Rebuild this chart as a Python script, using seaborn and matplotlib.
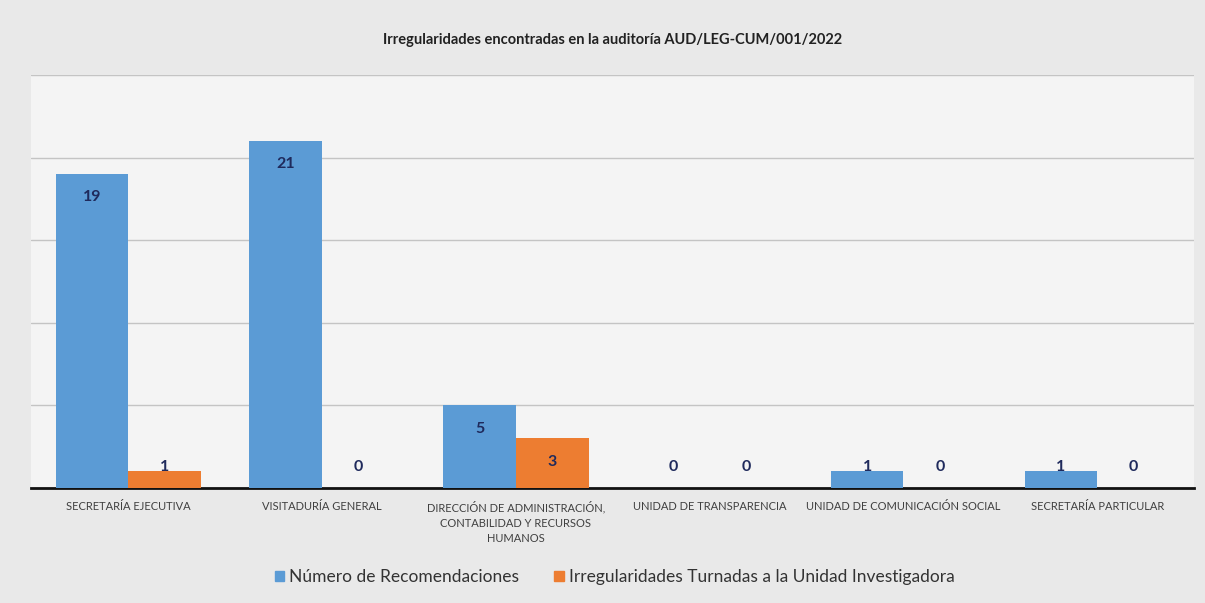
import numpy as np
import pandas as pd
import matplotlib.pyplot as plt
from matplotlib.patches import Patch
import seaborn as sns

# Data
areas = ['SECRETARÍA EJECUTIVA', 'VISITADURÍA GENERAL',
         'DIRECCIÓN DE ADMINISTRACIÓN,\nCONTABILIDAD Y RECURSOS\nHUMANOS',
         'UNIDAD DE TRANSPARENCIA', 'UNIDAD DE COMUNICACIÓN SOCIAL',
         'SECRETARÍA PARTICULAR']
recomendaciones = [19, 21, 5, 0, 1, 1]
irregularidades = [1, 0, 3, 0, 0, 0]
series = ['Número de Recomendaciones', 'Irregularidades Turnadas a la Unidad Investigadora']
colors = ['#5b9bd5', '#ed7d31']

df = pd.DataFrame({
    'area': areas * 2,
    'valor': recomendaciones + irregularidades,
    'serie': [series[0]] * len(areas) + [series[1]] * len(areas),
})

sns.set_style('white')
plt.rcParams['font.family'] = ['Lato', 'DejaVu Sans']

fig = plt.figure(figsize=(12.05, 6.03), dpi=100, facecolor='#e9e9e9')
ax = fig.add_axes([0.026, 0.1907, 0.965, 0.685])
ax.set_facecolor('#f4f4f4')

sns.barplot(data=df, x='area', y='valor', hue='serie', palette=colors,
            width=0.75, saturation=1, linewidth=0, ax=ax, legend=False, zorder=3)

ax.set_ylim(0, 25)
ax.set_xlim(-0.5, len(areas) - 0.5)
ax.set_yticks([5, 10, 15, 20, 25])
ax.yaxis.grid(True, color='#c4c4c4', linewidth=1, zorder=0)
ax.set_yticklabels([])
ax.tick_params(axis='y', length=0)
ax.tick_params(axis='x', length=0, labelsize=8, colors='#404040', pad=9)
for lbl in ax.get_xticklabels():
    lbl.set_linespacing(1.5)
for s in ['top', 'right', 'left']:
    ax.spines[s].set_visible(False)
ax.spines['bottom'].set_color('#111111')
ax.spines['bottom'].set_linewidth(2)
ax.set_xlabel('')
ax.set_ylabel('')

# data labels
for cont in ax.containers:
    for bar in cont:
        v = bar.get_height()
        y = max(v - 1.4, 1.3)
        ax.text(bar.get_x() + bar.get_width() / 2, y, f'{v:.0f}',
                ha='center', va='center', fontsize=11.5, fontweight='bold',
                color='#1f2a5c', zorder=5)

fig.text(0.508, 0.934, 'Irregularidades encontradas en la auditoría AUD/LEG-CUM/001/2022',
         ha='center', va='center', fontsize=10.5, fontweight='bold', color='#222222')

handles = [Patch(color=c, label=s) for c, s in zip(colors, series)]
fig.legend(handles=handles, loc='center', bbox_to_anchor=(0.51, 0.043), ncol=2,
           frameon=False, fontsize=12.5, handlelength=0.55, handleheight=0.55,
           handletextpad=0.3, columnspacing=2.0, labelcolor='#333333')

fig.savefig('out.png', dpi=100, facecolor=fig.get_facecolor())
